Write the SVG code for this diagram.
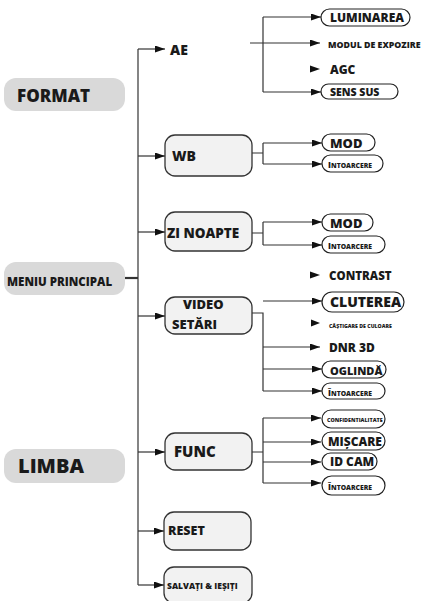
<svg xmlns="http://www.w3.org/2000/svg" width="427" height="601" viewBox="0 0 427 601">
<style>
text{font-family:"Open Sans","Noto Sans","Liberation Sans",sans-serif;font-weight:800;fill:#1a1a1a}
.gray{fill:#d9d9d9;stroke:none}
.box{fill:#f2f2f2;stroke:#333;stroke-width:1.3}
.pill{fill:#fff;stroke:#222;stroke-width:1.2}
.ln{fill:none;stroke:#333;stroke-width:1.2}
.ar{fill:none;stroke:#333;stroke-width:1.2;marker-end:url(#ah)}
.ah{fill:#111}
</style>
<defs>
<marker id="ah" markerUnits="userSpaceOnUse" markerWidth="11" markerHeight="8" refX="10" refY="3.5" orient="auto">
<path d="M0,0 L10,3.5 L0,7 z" fill="#111"/>
</marker>
</defs>

<g id="connectors">
<path class="ln" d="M138,49 V585"/>
<path class="ln" d="M125,278 H138" style="stroke-width:2.2"/>
<path class="ar" d="M138,49 H165"/>
<path class="ar" d="M138,156 H165"/>
<path class="ar" d="M138,232 H165"/>
<path class="ar" d="M138,316 H165"/>
<path class="ar" d="M138,452 H165"/>
<path class="ar" d="M138,531 H164"/>
<path class="ar" d="M138,585 H164"/>
<!-- AE -->
<path class="ln" d="M263,17 V92"/>
<path class="ar" d="M263,17 H321"/>
<path class="ar" d="M250,43 H320"/>
<polygon class="ah" points="310,65.5 320,69 310,72.5"/>
<path class="ar" d="M263,92 H321"/>
<!-- WB -->
<path class="ln" d="M252,153 H263 M263,143 V164"/>
<path class="ar" d="M263,143 H322"/>
<path class="ar" d="M263,164 H322"/>
<!-- ZI NOAPTE -->
<path class="ln" d="M252,233 H263 M263,222 V245"/>
<path class="ar" d="M263,222 H322"/>
<path class="ar" d="M263,245 H322"/>
<!-- VIDEO -->
<polygon class="ah" points="310,271.5 320,275 310,278.5"/>
<path class="ar" d="M263,301 H322"/>
<polygon class="ah" points="311,319.5 320,323 311,326.5"/>
<path class="ln" d="M252,313 H263 V391"/>
<path class="ar" d="M263,347 H320"/>
<path class="ar" d="M263,369 H322"/>
<path class="ar" d="M263,391 H322"/>
<!-- FUNC -->
<path class="ln" d="M252,452 H263 M263,418 V483"/>
<path class="ar" d="M263,418 H321"/>
<path class="ar" d="M263,442 H321"/>
<path class="ar" d="M263,462 H321"/>
<path class="ar" d="M263,483 H321"/>
</g>

<g id="format"><rect class="gray" x="4" y="78" width="121" height="33" rx="12"/><text x="17" y="102" font-size="17">FORMAT</text></g>
<g id="meniu"><rect class="gray" x="4" y="262" width="121" height="33" rx="12"/><text x="7" y="286" font-size="11.5">MENIU PRINCIPAL</text></g>
<g id="limba"><rect class="gray" x="4" y="449" width="121" height="34" rx="12"/><text x="18" y="473" font-size="20">LIMBA</text></g>

<g id="ae"><text x="170" y="55" font-size="14">AE</text></g>
<g id="luminarea"><rect class="pill" x="321" y="9" width="89" height="17" rx="8.5"/><text x="330" y="22" font-size="12">LUMINAREA</text></g>
<g id="modul"><text x="328" y="48" font-size="8.8">MODUL DE EXPOZIRE</text></g>
<g id="agc"><text x="330" y="74" font-size="12">AGC</text></g>
<g id="senssus"><rect class="pill" x="321" y="84" width="77" height="15" rx="7.5"/><text x="330" y="95.5" font-size="10.5">SENS SUS</text></g>

<g id="wb"><rect class="box" x="165" y="135" width="87" height="41" rx="10"/><text x="172" y="161" font-size="14">WB</text></g>
<g id="wb-mod"><rect class="pill" x="322" y="134" width="53" height="17" rx="8.5"/><text x="330" y="147.5" font-size="13">MOD</text></g>
<g id="wb-int"><rect class="pill" x="322" y="155" width="61" height="17" rx="8.5"/><text x="328" y="167.5" font-size="6.8"><tspan font-size="8.5">I</tspan>NTOARCERE</text></g>

<g id="zinoapte"><rect class="box" x="165" y="212" width="87" height="39" rx="10"/><text x="167" y="238" font-size="13.5">ZI NOAPTE</text></g>
<g id="zi-mod"><rect class="pill" x="322" y="214" width="51" height="17" rx="8.5"/><text x="330" y="227.5" font-size="13">MOD</text></g>
<g id="zi-int"><rect class="pill" x="322" y="236" width="63" height="17" rx="8.5"/><text x="328" y="249" font-size="6.8"><tspan font-size="8.5">I</tspan>NTOARCERE</text></g>

<g id="video"><rect class="box" x="165" y="297" width="87" height="37" rx="10"/><text x="183" y="308.5" font-size="13">VIDEO</text><text x="172" y="328.5" font-size="13">SETĂRI</text></g>
<g id="contrast"><text x="329" y="279.5" font-size="11.5">CONTRAST</text></g>
<g id="cluterea"><rect class="pill" x="322" y="292" width="82" height="20" rx="10"/><text x="330" y="306.5" font-size="14">CLUTEREA</text></g>
<g id="castigare"><text x="329" y="327.5" font-size="5.2">CĂȘTIGARE DE CULOARE</text></g>
<g id="dnr"><text x="329" y="352" font-size="12">DNR 3D</text></g>
<g id="oglinda"><rect class="pill" x="322" y="361" width="64" height="17" rx="8.5"/><text x="330" y="374.5" font-size="11">OGLINDĂ</text></g>
<g id="video-int"><rect class="pill" x="322" y="383" width="63" height="16" rx="8"/><text x="328" y="395.5" font-size="6.8"><tspan font-size="8.5">Î</tspan>NTOARCERE</text></g>

<g id="func"><rect class="box" x="165" y="433" width="87" height="37" rx="10"/><text x="174" y="457" font-size="15">FUNC</text></g>
<g id="conf"><rect class="pill" x="322" y="410" width="63" height="18" rx="9"/><text x="327" y="421.5" font-size="5.4">CONFIDENTIALITATE</text></g>
<g id="miscare"><rect class="pill" x="322" y="432" width="63" height="18" rx="9"/><text x="328" y="446" font-size="12">MIȘCARE</text></g>
<g id="idcam"><rect class="pill" x="322" y="453" width="55" height="17" rx="8.5"/><text x="330" y="466" font-size="12">ID CAM</text></g>
<g id="func-int"><rect class="pill" x="322" y="476" width="63" height="19" rx="9.5"/><text x="328" y="490" font-size="6.8"><tspan font-size="8.5">Î</tspan>NTOARCERE</text></g>

<g id="reset"><rect class="box" x="164" y="512" width="87" height="38" rx="10"/><text x="168" y="535" font-size="12.5">RESET</text></g>
<g id="salvati"><rect class="box" x="164" y="567" width="88" height="36" rx="10"/><text x="167" y="589" font-size="8.5">SALVAȚI &amp; IEȘIȚI</text></g>
</svg>
